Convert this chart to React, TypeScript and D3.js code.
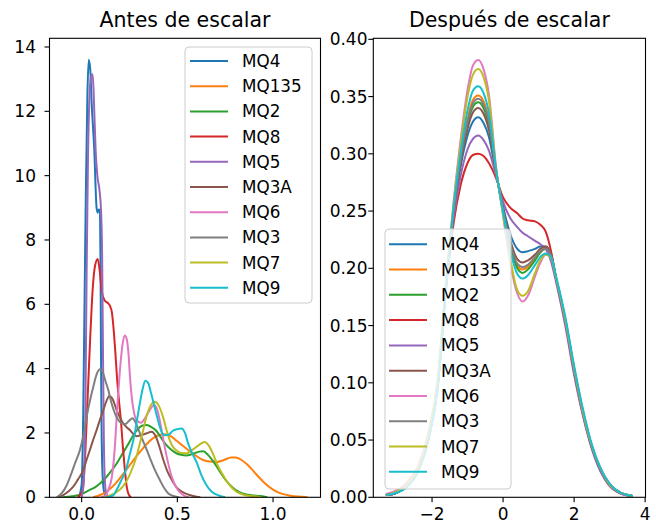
import React from 'react';
import * as d3 from 'd3';

type P = [number, number];

const seriesNames = ['MQ4', 'MQ135', 'MQ2', 'MQ8', 'MQ5', 'MQ3A', 'MQ6', 'MQ3', 'MQ7', 'MQ9'];
const seriesColors = ['#1f77b4', '#ff7f0e', '#2ca02c', '#d62728', '#9467bd', '#8c564b', '#e377c2', '#7f7f7f', '#bcbd22', '#17becf'];

// "Antes de escalar" densities: [x, density]
const rawMQ4: P[] = [[-0.015,0],[0.0,0.4],[0.008,2.5],[0.015,6],[0.022,9.5],[0.03,12.5],[0.037,13.6],[0.045,13.3],[0.052,12.3],[0.066,10.8],[0.078,9.0],[0.084,8.85],[0.09,8.95],[0.096,8.9],[0.099,7],[0.101,4.5],[0.104,2.2],[0.108,0.9],[0.115,0.25],[0.125,0.05],[0.14,0]];
const rawMQ135: P[] = [[0.06,0],[0.1,0.08],[0.14,0.22],[0.18,0.45],[0.22,0.75],[0.27,1.15],[0.31,1.45],[0.35,1.72],[0.39,1.9],[0.43,1.96],[0.465,1.9],[0.5,1.74],[0.535,1.57],[0.565,1.43],[0.6,1.28],[0.635,1.16],[0.67,1.11],[0.705,1.1],[0.74,1.15],[0.78,1.24],[0.805,1.24],[0.835,1.16],[0.865,1.02],[0.9,0.8],[0.93,0.6],[0.96,0.42],[1.0,0.24],[1.04,0.12],[1.09,0.05],[1.15,0.015],[1.18,0]];
const rawMQ2: P[] = [[-0.1,0],[-0.05,0.03],[0.0,0.1],[0.04,0.22],[0.075,0.33],[0.096,0.43],[0.125,0.6],[0.155,0.82],[0.183,1.05],[0.21,1.32],[0.24,1.62],[0.27,1.93],[0.295,2.13],[0.318,2.23],[0.338,2.25],[0.36,2.2],[0.39,2.07],[0.415,1.85],[0.443,1.62],[0.47,1.47],[0.495,1.37],[0.52,1.32],[0.547,1.3],[0.58,1.35],[0.615,1.42],[0.635,1.43],[0.66,1.32],[0.686,1.13],[0.72,0.82],[0.755,0.52],[0.79,0.3],[0.824,0.16],[0.87,0.08],[0.946,0.03],[0.97,0]];
const rawMQ8: P[] = [[-0.02,0],[0.005,0.2],[0.02,1.5],[0.032,3.2],[0.045,5.0],[0.058,6.5],[0.07,7.2],[0.084,7.41],[0.095,7.0],[0.105,6.4],[0.12,6.12],[0.135,6.05],[0.148,5.95],[0.158,5.75],[0.166,5.3],[0.175,4.6],[0.185,3.7],[0.195,3.0],[0.205,2.4],[0.215,1.6],[0.225,0.9],[0.235,0.35],[0.245,0.1],[0.258,0]];
const rawMQ5: P[] = [[0.0,0],[0.012,0.6],[0.02,3],[0.026,7],[0.033,10.5],[0.042,12.6],[0.05,13.1],[0.057,13.15],[0.062,12.7],[0.066,12.0],[0.073,10.8],[0.082,10.0],[0.095,9.45],[0.102,8.8],[0.107,7.5],[0.11,5.5],[0.113,3.5],[0.116,1.8],[0.12,0.7],[0.127,0.15],[0.14,0]];
const rawMQ3A: P[] = [[-0.13,0],[-0.096,0.07],[-0.07,0.18],[-0.044,0.33],[-0.02,0.55],[0.009,0.85],[0.025,1.15],[0.043,1.47],[0.06,1.78],[0.078,2.09],[0.095,2.4],[0.113,2.71],[0.13,3.0],[0.145,3.15],[0.162,3.05],[0.183,2.71],[0.2,2.48],[0.217,2.3],[0.235,2.18],[0.252,2.09],[0.27,1.97],[0.287,1.9],[0.31,1.93],[0.34,1.99],[0.365,2.04],[0.385,1.92],[0.405,1.6],[0.427,1.16],[0.45,0.78],[0.475,0.5],[0.497,0.3],[0.53,0.15],[0.56,0.08],[0.6,0.02],[0.62,0]];
const rawMQ6: P[] = [[0.1,0],[0.125,0.06],[0.14,0.25],[0.157,0.6],[0.167,1.1],[0.175,1.7],[0.183,2.5],[0.19,3.15],[0.198,3.8],[0.206,4.35],[0.215,4.8],[0.226,5.03],[0.236,4.9],[0.245,4.45],[0.252,3.8],[0.262,3.1],[0.275,2.6],[0.29,2.38],[0.31,2.32],[0.33,2.45],[0.35,2.65],[0.368,2.82],[0.38,2.86],[0.393,2.75],[0.408,2.4],[0.425,1.85],[0.445,1.25],[0.47,0.65],[0.5,0.25],[0.53,0.07],[0.56,0]];
const rawMQ3: P[] = [[-0.13,0],[-0.105,0.12],[-0.08,0.35],[-0.06,0.64],[-0.035,1.05],[-0.009,1.47],[0.01,1.95],[0.026,2.5],[0.045,3.05],[0.061,3.44],[0.08,3.85],[0.096,3.98],[0.11,3.9],[0.125,3.6],[0.139,3.34],[0.155,2.95],[0.174,2.61],[0.192,2.4],[0.21,2.3],[0.228,2.28],[0.248,2.38],[0.265,2.46],[0.28,2.35],[0.297,2.1],[0.314,1.85],[0.335,1.55],[0.357,1.22],[0.385,0.82],[0.41,0.52],[0.432,0.28],[0.453,0.12],[0.48,0.04],[0.51,0]];
const rawMQ7: P[] = [[0.12,0],[0.148,0.06],[0.18,0.15],[0.217,0.35],[0.245,0.62],[0.27,0.98],[0.288,1.3],[0.304,1.67],[0.322,2.1],[0.338,2.5],[0.36,2.85],[0.382,2.97],[0.403,2.85],[0.425,2.5],[0.443,2.1],[0.46,1.78],[0.478,1.56],[0.495,1.46],[0.52,1.38],[0.547,1.37],[0.58,1.48],[0.616,1.64],[0.642,1.72],[0.665,1.6],[0.686,1.36],[0.71,1.0],[0.738,0.7],[0.77,0.4],[0.807,0.18],[0.85,0.07],[0.9,0.03],[0.94,0]];
const rawMQ9: P[] = [[0.13,0],[0.165,0.06],[0.18,0.2],[0.205,0.5],[0.234,0.9],[0.25,1.3],[0.265,1.65],[0.278,2.0],[0.292,2.5],[0.305,2.95],[0.318,3.35],[0.333,3.62],[0.348,3.55],[0.36,3.3],[0.373,3.0],[0.39,2.6],[0.408,2.2],[0.42,2.0],[0.434,1.93],[0.455,1.95],[0.477,2.07],[0.5,2.12],[0.522,2.14],[0.54,2.0],[0.555,1.7],[0.575,1.4],[0.6,1.1],[0.625,0.7],[0.65,0.4],[0.68,0.17],[0.72,0.05],[0.75,0]];

// "Después de escalar" densities on a shared x grid
const scaledX = [-3.3,-3.0,-2.7,-2.4,-2.1,-1.85,-1.6,-1.4,-1.2,-1.0,-0.85,-0.7,-0.55,-0.4,-0.2,0.0,0.2,0.4,0.55,0.7,0.9,1.05,1.2,1.35,1.5,1.75,2.0,2.25,2.5,2.75,3.0,3.3,3.65];
const scaledMQ4 = [.002,.004,.010,.023,.052,.095,.186,.245,.288,.316,.328,.332,.327,.315,.283,.254,.230,.217,.214,.215,.217,.219,.219,.211,.190,.154,.111,.074,.044,.024,.011,.004,.0012];
const scaledMQ135 = [.002,.004,.010,.023,.052,.096,.187,.25,.296,.331,.347,.351,.346,.330,.286,.250,.221,.202,.199,.201,.208,.214,.217,.211,.190,.155,.112,.074,.044,.024,.011,.004,.0012];
const scaledMQ2 = [.002,.004,.010,.023,.052,.095,.187,.248,.293,.326,.341,.345,.340,.325,.285,.250,.221,.200,.196,.199,.207,.214,.217,.212,.190,.155,.112,.074,.044,.024,.011,.004,.0012];
const scaledMQ8 = [.002,.004,.010,.023,.051,.094,.184,.238,.272,.292,.299,.300,.298,.292,.279,.262,.253,.248,.2435,.242,.241,.238,.232,.215,.190,.153,.109,.072,.043,.023,.010,.0035,.001];
const scaledMQ5 = [.002,.004,.010,.023,.051,.094,.185,.242,.280,.304,.313,.316,.312,.303,.281,.258,.244,.236,.231,.228,.224,.221,.217,.206,.187,.150,.107,.071,.042,.022,.010,.0035,.001];
const scaledMQ3A = [.002,.004,.010,.023,.052,.095,.186,.247,.291,.322,.336,.340,.335,.321,.284,.252,.225,.208,.205,.207,.212,.217,.219,.212,.190,.155,.112,.074,.044,.024,.011,.004,.0012];
const scaledMQ6 = [.003,.006,.013,.027,.057,.101,.192,.256,.311,.356,.377,.382,.374,.352,.289,.246,.205,.178,.171,.176,.193,.205,.212,.209,.191,.156,.113,.075,.045,.025,.012,.004,.0012];
const scaledMQ3 = [.002,.004,.010,.023,.052,.095,.187,.249,.295,.328,.344,.348,.343,.328,.285,.251,.222,.204,.201,.203,.210,.215,.217,.211,.190,.155,.112,.074,.044,.024,.011,.004,.0012];
const scaledMQ7 = [.002,.005,.011,.025,.055,.099,.190,.254,.307,.350,.369,.374,.367,.347,.288,.247,.209,.181,.176,.180,.196,.207,.212,.209,.191,.156,.113,.075,.045,.025,.011,.004,.0012];
const scaledMQ9 = [.002,.004,.009,.022,.050,.093,.185,.251,.300,.338,.355,.359,.353,.336,.287,.249,.216,.195,.191,.194,.203,.210,.213,.210,.192,.158,.115,.077,.046,.025,.012,.004,.0012];

const rawSeries = [rawMQ4, rawMQ135, rawMQ2, rawMQ8, rawMQ5, rawMQ3A, rawMQ6, rawMQ3, rawMQ7, rawMQ9];
const scaledSeries = [scaledMQ4, scaledMQ135, scaledMQ2, scaledMQ8, scaledMQ5, scaledMQ3A, scaledMQ6, scaledMQ3, scaledMQ7, scaledMQ9];

const leftXTicks = [0, 0.5, 1.0];
const leftXLabels = ['0.0', '0.5', '1.0'];
const leftYTicks = [0, 2, 4, 6, 8, 10, 12, 14];
const leftYLabels = ['0', '2', '4', '6', '8', '10', '12', '14'];
const rightXTicks = [-2, 0, 2, 4];
const rightXLabels = ['\u22122', '0', '2', '4'];
const rightYTicks = [0, 0.05, 0.1, 0.15, 0.2, 0.25, 0.3, 0.35, 0.4];
const rightYLabels = ['0.00', '0.05', '0.10', '0.15', '0.20', '0.25', '0.30', '0.35', '0.40'];

const FONT = 'DejaVu Sans, sans-serif';
const TICK_FS = 17;
const LEG_FS = 16.8;
const TITLE_FS = 20.5;

type PanelProps = {
  id: string;
  left: number; right: number; top: number; bottom: number;
  xDomain: [number, number]; yDomain: [number, number];
  data: P[][];
  title: string;
  xTicks: number[]; xLabels: string[];
  yTicks: number[]; yLabels: string[];
  yLabelEnd: number;
  legend: { x: number; y: number; w: number; h: number; first: number; pitch: number; lineX0: number; lineX1: number; textX: number };
};

function Panel(p: PanelProps) {
  const xs = d3.scaleLinear().domain(p.xDomain).range([p.left, p.right]);
  const ys = d3.scaleLinear().domain(p.yDomain).range([p.bottom, p.top]);
  const line = d3.line<P>().x(d => xs(d[0])).y(d => ys(d[1])).curve(d3.curveMonotoneX);
  const lg = p.legend;
  return (
    <g>
      <defs>
        <clipPath id={p.id}>
          <rect x={p.left} y={p.top} width={p.right - p.left} height={p.bottom - p.top} />
        </clipPath>
      </defs>
      <g clipPath={`url(#${p.id})`}>
        {p.data.map((s, i) => (
          <path key={i} d={line(s) || ''} fill="none" stroke={seriesColors[i]} strokeWidth={2} strokeLinejoin="round" />
        ))}
      </g>
      <rect x={p.left} y={p.top} width={p.right - p.left} height={p.bottom - p.top} fill="none" stroke="#000" strokeWidth={1.1} />
      {p.xTicks.map((t, i) => (
        <g key={'x' + i}>
          <line x1={xs(t)} x2={xs(t)} y1={p.bottom} y2={p.bottom + 5} stroke="#000" strokeWidth={1.1} />
          <text x={xs(t)} y={519.5} fontSize={TICK_FS} fontFamily={FONT} textAnchor="middle" fill="#000">{p.xLabels[i]}</text>
        </g>
      ))}
      {p.yTicks.map((t, i) => (
        <g key={'y' + i}>
          <line x1={p.left - 5} x2={p.left} y1={ys(t)} y2={ys(t)} stroke="#000" strokeWidth={1.1} />
          <text x={p.yLabelEnd} y={ys(t) + TICK_FS * 0.36} fontSize={TICK_FS} fontFamily={FONT} textAnchor="end" fill="#000">{p.yLabels[i]}</text>
        </g>
      ))}
      <text x={(p.left + p.right) / 2} y={p.top - 11} fontSize={TITLE_FS} fontFamily={FONT} textAnchor="middle" fill="#000">{p.title}</text>
      <rect x={lg.x} y={lg.y} width={lg.w} height={lg.h} rx={4} ry={4} fill="#fff" fillOpacity={0.8} stroke="#cccccc" strokeWidth={1} />
      {seriesNames.map((n, i) => {
        const y = lg.first + i * lg.pitch;
        return (
          <g key={n}>
            <line x1={lg.lineX0} x2={lg.lineX1} y1={y} y2={y} stroke={seriesColors[i]} strokeWidth={2} />
            <text x={lg.textX} y={y + LEG_FS * 0.36} fontSize={LEG_FS} fontFamily={FONT} fill="#000">{n}</text>
          </g>
        );
      })}
    </g>
  );
}

export default function App() {
  const scaledData: P[][] = scaledSeries.map(s => s.map((v, j) => [scaledX[j], v] as P));
  return (
    <svg width={656} height={524} style={{ position: 'absolute', left: 0, top: 0, background: '#fff' }}>
      <rect x={0} y={0} width={656} height={524} fill="#fff" />
      <Panel
        id="clipL"
        left={49.5} right={320.5} top={38.3} bottom={497.3}
        xDomain={[-0.168, 1.248]} yDomain={[0, 14.27]}
        data={rawSeries}
        title="Antes de escalar"
        xTicks={leftXTicks} xLabels={leftXLabels}
        yTicks={leftYTicks} yLabels={leftYLabels}
        yLabelEnd={36}
        legend={{ x: 185, y: 47, w: 127, h: 256, first: 61, pitch: 25.2, lineX0: 190, lineX1: 228, textX: 242 }}
      />
      <Panel
        id="clipR"
        left={373.3} right={645.5} top={38.3} bottom={497.3}
        xDomain={[-3.654, 4.01]} yDomain={[0, 0.4009]}
        data={scaledData}
        title="Después de escalar"
        xTicks={rightXTicks} xLabels={rightXLabels}
        yTicks={rightYTicks} yLabels={rightYLabels}
        yLabelEnd={367.5}
        legend={{ x: 385, y: 229, w: 126, h: 260, first: 244.3, pitch: 25.27, lineX0: 389, lineX1: 427, textX: 441 }}
      />
    </svg>
  );
}
